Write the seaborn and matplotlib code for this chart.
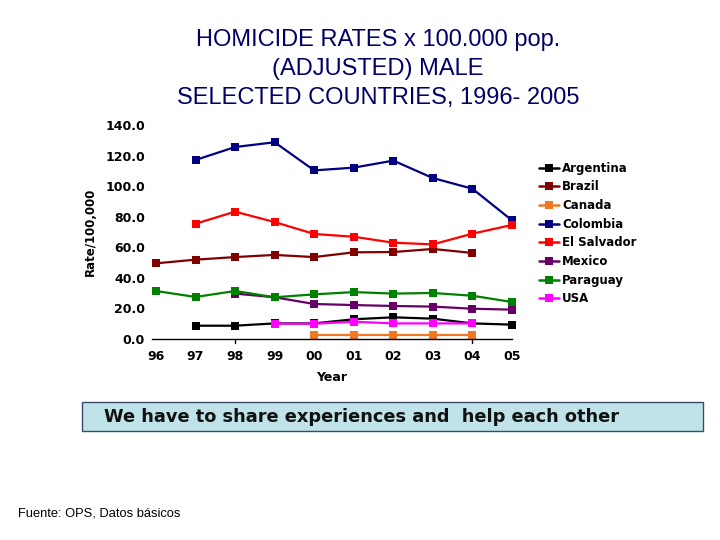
import numpy as np
import pandas as pd
import matplotlib
matplotlib.use("Agg")
import matplotlib.pyplot as plt
import seaborn as sns
from matplotlib.patches import Rectangle
from matplotlib.lines import Line2D

years = ["96", "97", "98", "99", "00", "01", "02", "03", "04", "05"]
nan = np.nan
argentina = [nan, 8.7, 8.7, 10.2, 10.2, 12.9, 14.2, 13.3, 10.2, 9.4]
brazil = [49.5, 51.9, 53.6, 55.0, 53.6, 56.7, 56.9, 58.9, 56.3, nan]
canada = [nan, nan, nan, nan, 2.6, 2.6, 2.6, 2.6, 2.6, nan]
colombia = [nan, 117.1, 125.6, 128.7, 110.3, 112.1, 116.7, 105.3, 98.3, 77.6]
el_salvador = [nan, 75.4, 83.3, 76.5, 68.7, 66.9, 63.0, 61.9, 68.9, 74.6]
mexico = [nan, nan, 29.7, 27.3, 22.9, 22.2, 21.6, 21.2, 19.8, 19.2]
paraguay = [31.4, 27.5, 31.4, 27.3, 29.2, 30.7, 29.7, 30.1, 28.3, 24.2]
usa = [nan, nan, nan, 10.0, 10.0, 11.3, 10.2, 10.2, 10.2, nan]

countries = ["Argentina", "Brazil", "Canada", "Colombia", "El Salvador",
             "Mexico", "Paraguay", "USA"]
series = [argentina, brazil, canada, colombia, el_salvador, mexico, paraguay, usa]
colors = ["#000000", "#800000", "#f07820", "#000080", "#ff0000",
          "#660066", "#008000", "#ff00ff"]

rows = []
for name, vals in zip(countries, series):
    for i, v in enumerate(vals):
        if not np.isnan(v):
            rows.append({"pos": i, "Year": years[i], "Country": name, "Rate": v})
df = pd.DataFrame(rows)

sns.set_theme(style="white")
plt.rcParams["font.family"] = ["DejaVu Sans"]

fig = plt.figure(figsize=(7.2, 5.4), dpi=100)
ax = fig.add_axes([152/720, (540-339)/540, 360/720, 214/540])

palette = dict(zip(countries, colors))
sns.lineplot(data=df, x="pos", y="Rate", hue="Country", hue_order=countries,
             palette=palette, marker="s", markersize=5.5, markeredgewidth=0,
             linewidth=1.6, ax=ax, legend=False)
for ln in ax.lines:
    ln.set_clip_on(False)

ax.set_xlim(-0.1, 9.0)
ax.set_ylim(0, 140)
ax.set_yticks(np.arange(0, 141, 20))
ax.set_yticklabels([f"{v:.1f}" for v in np.arange(0, 141, 20)],
                   fontsize=9, fontweight="bold", color="black")
ax.set_xticks(range(10))
ax.set_xticklabels(years, fontsize=9, fontweight="bold", color="black")
ax.tick_params(axis="y", length=0, pad=5)
ax.tick_params(axis="x", length=0, pad=8)
for s in ["top", "right", "left"]:
    ax.spines[s].set_visible(False)
ax.spines["bottom"].set_color("black")
ax.spines["bottom"].set_linewidth(1.0)
for xt in [2, 8]:
    ax.plot([xt, xt], [0, -2.5], color="black", lw=1.0, clip_on=False)
ax.set_xlabel("Year", fontsize=9, fontweight="bold", labelpad=6, color="black")
ax.set_ylabel("Rate/100,000", fontsize=8.5, fontweight="bold", labelpad=6,
              color="black")
ax.grid(False)

handles = [Line2D([0], [0], color=c, lw=1.8, marker="s", markersize=5.5,
                  markeredgewidth=0) for c in colors]
leg = fig.legend(handles, countries, loc="upper left",
                 bbox_to_anchor=(534/720, 1 - 157/540), frameon=False,
                 prop={"size": 8.5, "weight": "bold"}, handlelength=1.7,
                 handletextpad=0.3, labelspacing=0.48, borderaxespad=0,
                 labelcolor="black")

fig.text(378/720, 1 - 29/540,
         "HOMICIDE RATES x 100.000 pop.\n(ADJUSTED) MALE\nSELECTED COUNTRIES, 1996- 2005",
         ha="center", va="top", fontsize=17, color="#000066",
         family="Liberation Sans", linespacing=1.42)

box = Rectangle((82/720, 1 - 431/540), (703-82)/720, 29/540,
                transform=fig.transFigure, facecolor="#bfe3e8",
                edgecolor="#3a4a6a", lw=1.0)
fig.patches.append(box)
fig.text(362/720, 1 - 416.5/540, "We have to share experiences and  help each other",
         ha="center", va="center", fontsize=12.8, fontweight="bold", color="#111111")

fig.text(18/720, 1 - 514/540, "Fuente: OPS, Datos básicos", ha="left", va="center",
         fontsize=9.3, family="Liberation Sans", color="black")

fig.savefig("out.png", dpi=100)
